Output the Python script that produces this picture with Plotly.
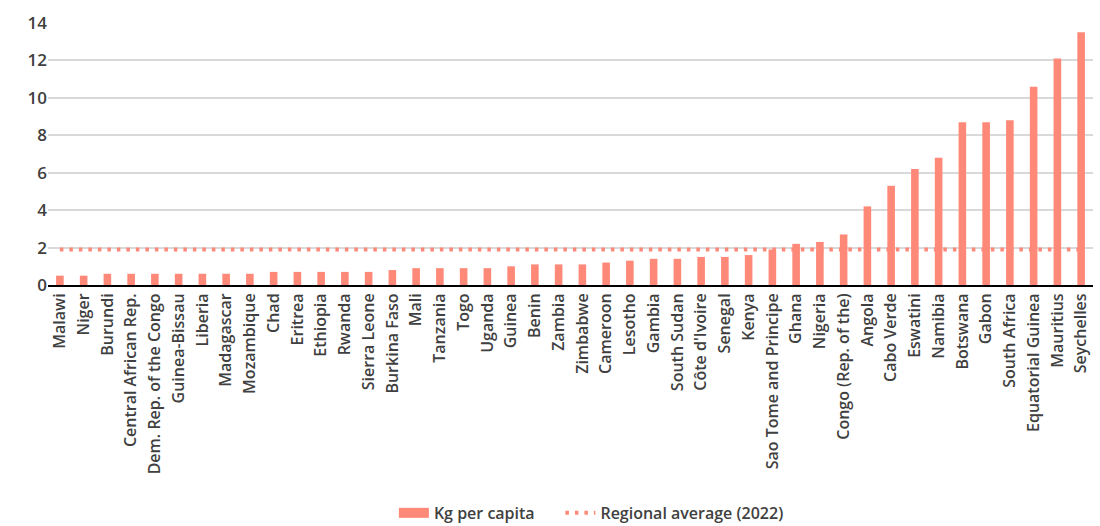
import plotly.graph_objects as go

countries = ["Malawi", "Niger", "Burundi", "Central African Rep.", "Dem. Rep. of the Congo",
             "Guinea-Bissau", "Liberia", "Madagascar", "Mozambique", "Chad", "Eritrea", "Ethiopia",
             "Rwanda", "Sierra Leone", "Burkina Faso", "Mali", "Tanzania", "Togo", "Uganda", "Guinea",
             "Benin", "Zambia", "Zimbabwe", "Cameroon", "Lesotho", "Gambia", "South Sudan",
             "Côte d'Ivoire", "Senegal", "Kenya", "Sao Tome and Principe", "Ghana", "Nigeria",
             "Congo (Rep. of the)", "Angola", "Cabo Verde", "Eswatini", "Namibia", "Botswana",
             "Gabon", "South Africa", "Equatorial Guinea", "Mauritius", "Seychelles"]
kg_per_capita = [0.5, 0.5, 0.6, 0.6, 0.6, 0.6, 0.6, 0.6, 0.6, 0.7, 0.7, 0.7, 0.7, 0.7, 0.8,
                 0.9, 0.9, 0.9, 0.9, 1.0, 1.1, 1.1, 1.1, 1.2, 1.3, 1.4, 1.4, 1.5, 1.5, 1.6,
                 1.9, 2.2, 2.3, 2.7, 4.2, 5.3, 6.2, 6.8, 8.7, 8.7, 8.8, 10.6, 12.1, 13.5]
regional_average = 1.9
y_ticks = [0, 2, 4, 6, 8, 10, 12, 14]

color = "#FF8979"
text_color = "#404040"
font_family = "Open Sans"

fig = go.Figure()
fig.add_trace(go.Bar(x=countries, y=kg_per_capita, name="Kg per capita", showlegend=False,
                     marker=dict(color=color, line=dict(width=0))))
# legend entry for the bars, shown as a wide swatch
fig.add_trace(go.Scatter(x=[None], y=[None], mode="lines",
                         name="Kg per capita\u00a0\u00a0\u00a0\u00a0\u00a0",
                         line=dict(color=color, width=10)))
fig.add_trace(go.Scatter(x=countries, y=[regional_average] * len(countries),
                         mode="lines", name="Regional average (2022)",
                         line=dict(color=color, width=4, dash="3.5px,6px")))

fig.update_layout(
    width=1100, height=526,
    margin=dict(l=48, r=7, t=23, b=241, autoexpand=False),
    plot_bgcolor="white", paper_bgcolor="white",
    bargap=0.68,
    font=dict(family=font_family, color=text_color, size=16, weight=600),
    showlegend=True,
    legend=dict(orientation="h", x=0.52, xanchor="center", y=-0.87, yanchor="middle",
                font=dict(size=16, color=text_color, weight=600)),
    xaxis=dict(tickangle=-90, showgrid=False, showline=True, linecolor="black", linewidth=2,
               ticks="", automargin=False, tickfont=dict(size=16, color=text_color),
               range=[-0.5, len(countries) - 0.5]),
    yaxis=dict(range=[0, 14], tickvals=y_ticks, showgrid=True, gridcolor="#D9D9D9", gridwidth=1.5,
               zeroline=False, ticks="", automargin=False,
               tickfont=dict(size=17, color=text_color), ticksuffix="  "),
)

fig.write_html("out.html", config={"displayModeBar": False},
               post_script="document.body.style.margin='0';document.body.style.overflow='hidden';")
